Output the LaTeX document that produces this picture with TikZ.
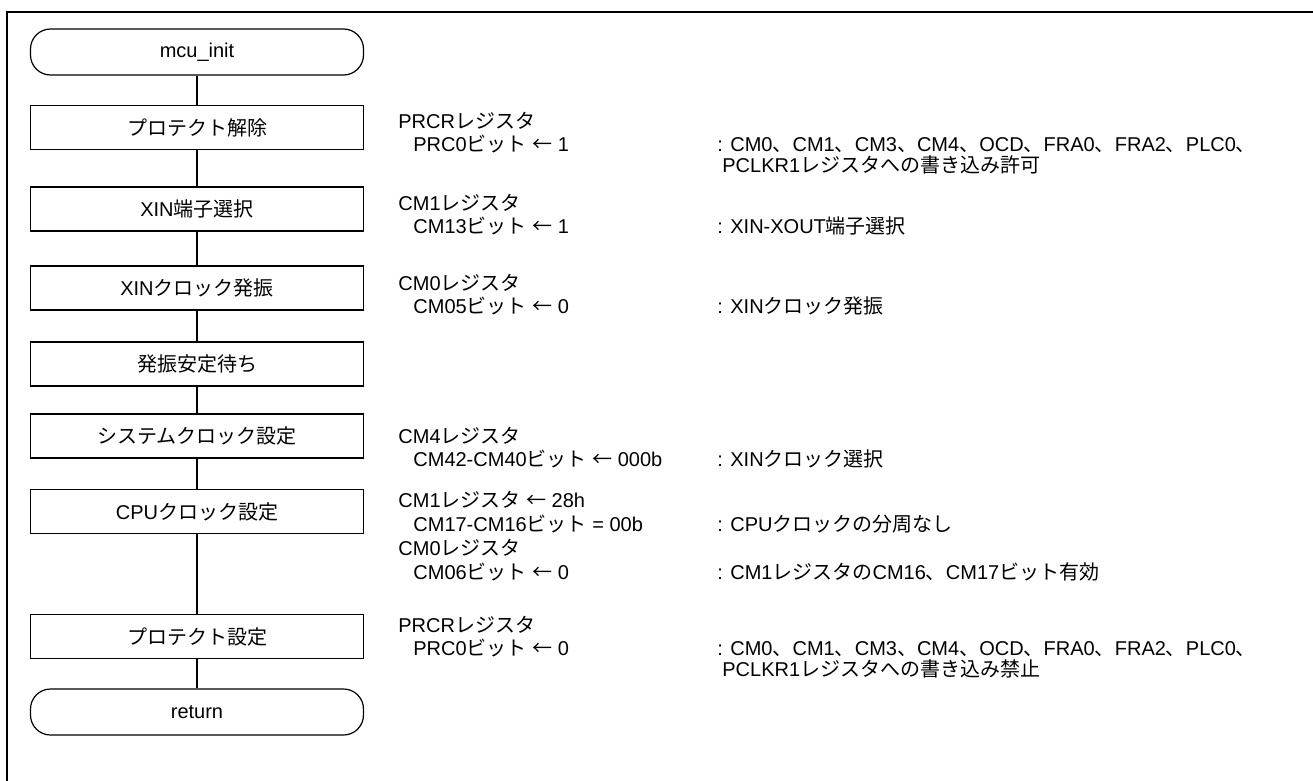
\documentclass[tikz,border=0pt]{standalone}
\usepackage{fontspec}
\setmainfont{Liberation Sans}
\newfontfamily\jpfont{Noto Sans CJK JP}
\newcommand{\J}[1]{{\jpfont #1}}
\begin{document}
\begin{tikzpicture}[x=0.5pt,y=-0.5pt,
  proc/.style={draw,line width=0.6pt,minimum width=166.5pt,minimum height=22pt,inner sep=0pt},
  term/.style={proc,rounded corners=10pt,minimum height=23pt},
  reg/.style={anchor=base west,inner sep=0pt},
  link/.style={line width=0.6pt}]
\useasboundingbox (0,0) rectangle (1313,781);
\clip (0,0) rectangle (1313,781);
\draw[line width=1.3pt] (7,800) -- (7,12) -- (1330,12);
% flow nodes
\node[term] (s)  at (197,52)    {mcu\_init};
\node[proc] (b1) at (197,127.5) {\J{プロテクト解除}};
\node[proc] (b2) at (197,209)   {XIN\J{端子選択}};
\node[proc] (b3) at (197,288)   {XIN\J{クロック発振}};
\node[proc] (b4) at (197,364)   {\J{発振安定待ち}};
\node[proc] (b5) at (197,436)   {\J{システムクロック設定}};
\node[proc] (b6) at (197,511.5) {CPU\J{クロック設定}};
\node[proc] (b7) at (197,636.5) {\J{プロテクト設定}};
\node[term] (e)  at (197,712)   {return};
\draw[link] (s) -- (b1);
\draw[link] (b1) -- (b2);
\draw[link] (b2) -- (b3);
\draw[link] (b3) -- (b4);
\draw[link] (b4) -- (b5);
\draw[link] (b5) -- (b6);
\draw[link] (b6) -- (b7);
\draw[link] (b7) -- (e);
% block 1
\node[reg] (t1a) at (398,129) {PRCR\J{レジスタ}};
\node[reg] (t1b) at (413,152) {PRC0\J{ビット} \J{←} 1};
\node[reg] (d1a) at (717,152) {: CM0\J{、}CM1\J{、}CM3\J{、}CM4\J{、}OCD\J{、}FRA0\J{、}FRA2\J{、}PLC0\J{、}};
\node[reg] (d1b) at (722,173) {PCLKR1\J{レジスタへの書き込み許可}};
% block 2
\node[reg] (t2a) at (398,211) {CM1\J{レジスタ}};
\node[reg] (t2b) at (413,234) {CM13\J{ビット} \J{←} 1};
\node[reg] (d2a) at (717,234) {: XIN-XOUT\J{端子選択}};
% block 3
\node[reg] (t3a) at (398,290) {CM0\J{レジスタ}};
\node[reg] (t3b) at (413,313) {CM05\J{ビット} \J{←} 0};
\node[reg] (d3a) at (717,313) {: XIN\J{クロック発振}};
% block 4
\node[reg] (t4a) at (398,443) {CM4\J{レジスタ}};
\node[reg] (t4b) at (413,466) {CM42-CM40\J{ビット} \J{←} 000b};
\node[reg] (d4a) at (717,466) {: XIN\J{クロック選択}};
% block 5
\node[reg] (t5a) at (398,507) {CM1\J{レジスタ} \J{←} 28h};
\node[reg] (t5b) at (413,531) {CM17-CM16\J{ビット} = 00b};
\node[reg] (d5a) at (717,531) {: CPU\J{クロックの分周なし}};
\node[reg] (t5c) at (398,555) {CM0\J{レジスタ}};
\node[reg] (t5d) at (413,579) {CM06\J{ビット} \J{←} 0};
\node[reg] (d5b) at (717,579) {: CM1\J{レジスタの}CM16\J{、}CM17\J{ビット有効}};
% block 6
\node[reg] (t6a) at (398,632) {PRCR\J{レジスタ}};
\node[reg] (t6b) at (413,655) {PRC0\J{ビット} \J{←} 0};
\node[reg] (d6a) at (717,655) {: CM0\J{、}CM1\J{、}CM3\J{、}CM4\J{、}OCD\J{、}FRA0\J{、}FRA2\J{、}PLC0\J{、}};
\node[reg] (d6b) at (722,676) {PCLKR1\J{レジスタへの書き込み禁止}};
\end{tikzpicture}
\end{document}
